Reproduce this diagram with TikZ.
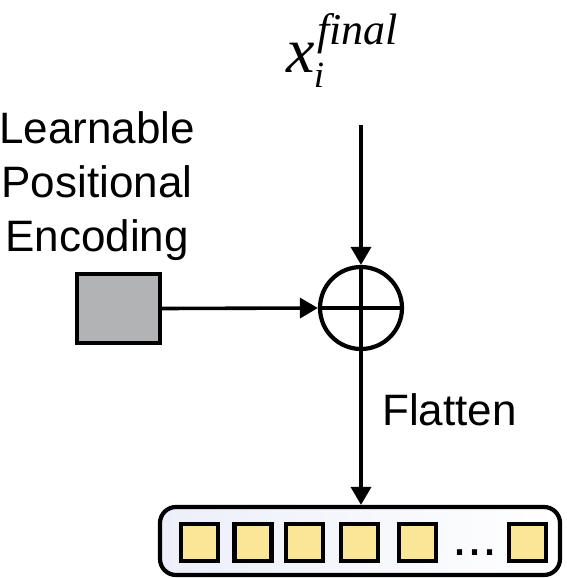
\documentclass[tikz,border=0pt]{standalone}
\usepackage{fontspec}
\setmainfont{Liberation Sans}
\newfontfamily\tms{Liberation Serif}
\usetikzlibrary{arrows.meta}
\definecolor{cellyellow}{HTML}{FBE597}
\definecolor{pegray}{HTML}{B2B3B5}
\definecolor{boxblue}{HTML}{ECEFF9}
\tikzset{
  conn/.style={line width=3.6pt,-{Triangle[length=18pt,width=20pt]}},
  cell/.style={draw,line width=4.2pt,fill=cellyellow,minimum size=37pt,inner sep=0pt},
  lbl/.style={font=\fontsize{44}{54}\selectfont,inner sep=0pt,anchor=base}
}
\begin{document}
\begin{tikzpicture}[x=1pt,y=-1pt]
\useasboundingbox (0,0) rectangle (566,578);
% title
\node[inner sep=0pt,anchor=base] (xv) at (301,72) {\tms\itshape\fontsize{64}{64}\selectfont x};
\node[inner sep=0pt,anchor=base west] (sup) at (317,45) {\tms\itshape\fontsize{44}{44}\selectfont final};
\node[inner sep=0pt,anchor=base] (sub) at (319,88) {\tms\itshape\fontsize{37}{37}\selectfont i};
% left label
\node[lbl,align=center,anchor=north] (pel) at (97,111) {Learnable\\Positional\\Encoding};
% gray square
\node[draw,line width=4.2pt,fill=pegray,minimum width=83pt,minimum height=69pt,inner sep=0pt] (pe) at (118.5,308.5) {};
% adder
\node[draw,circle,line width=4.2pt,minimum size=82pt,inner sep=0pt] (add) at (361,308) {};
\draw[line width=3.6pt] (add.north) -- (add.south) (add.west) -- (add.east);
\coordinate (top) at (361,125);
\draw[conn] (top) -- (add.north);
\draw[conn] (pe.east) -- (add.west);
% flatten label
\node[lbl,anchor=base west] (fl) at (382,425) {Flatten};
% token box
\node[draw,line width=4.2pt,rounded corners=16pt,left color=boxblue,right color=white,minimum width=400pt,minimum height=68pt,inner sep=0pt] (tok) at (360,541) {};
\draw[conn] (add.south) -- (tok.north -| add.south);
\node[cell] (c1) at (199.5,542.5) {};
\node[cell] (c2) at (253,542.5) {};
\node[cell] (c3) at (304.5,542.5) {};
\node[cell] (c4) at (359.5,542.5) {};
\node[cell] (c5) at (417.5,542.5) {};
\node[inner sep=0pt,anchor=base,font=\fontsize{54}{54}\selectfont] (dots) at (475,555) {...};
\node[cell] (c6) at (527.5,542.5) {};
\end{tikzpicture}
\end{document}
